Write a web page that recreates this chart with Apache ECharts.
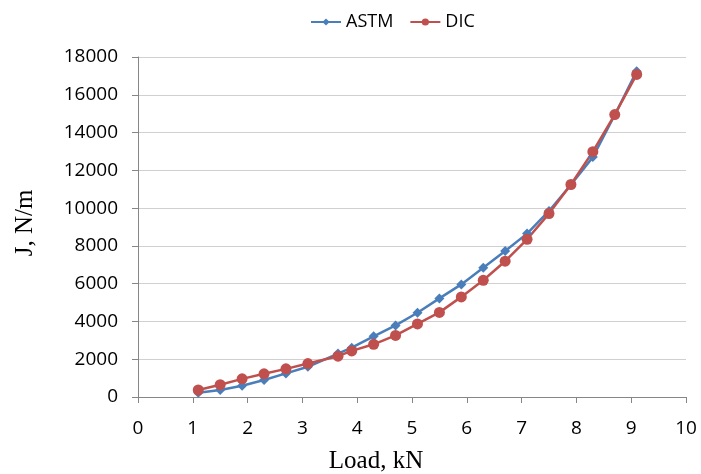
<!DOCTYPE html>
<html>
<head>
<meta charset="utf-8">
<script src="https://cdn.jsdelivr.net/npm/echarts@6/dist/echarts.min.js"></script>
<style>
  html, body { margin: 0; padding: 0; background: #fff; }
  #chart { width: 701px; height: 474px; }
</style>
</head>
<body>
<div id="chart"></div>
<script>
// load values (kN)
var loads = [1.1, 1.5, 1.9, 2.3, 2.7, 3.1, 3.65, 3.9, 4.3, 4.7, 5.1, 5.5, 5.9, 6.3, 6.7, 7.1, 7.5, 7.9, 8.3, 8.7, 9.1];
// J values, N/m
var astm = [230, 370, 600, 900, 1250, 1600, 2300, 2610, 3210, 3790, 4460, 5220, 5960, 6840, 7730, 8650, 9850, 11240, 12700, 14930, 17250];
var dic = [370, 650, 960, 1230, 1490, 1770, 2160, 2440, 2790, 3260, 3870, 4480, 5300, 6180, 7190, 8350, 9710, 11250, 12990, 14950, 17080];
var xTicks = [0, 10, 1];
var yTicks = [0, 18000, 2000];

function pairs(ys) {
    var out = [];
    for (let i = 0; i < loads.length; i++) {
        out.push([loads[i], ys[i]]);
    }
    return out;
}

var myChart = echarts.init(document.getElementById('chart'));

var tickFont = { fontFamily: 'Open Sans', fontSize: 19, color: '#000' };

var option = {
    animation: false,
    legend: {
        top: 8,
        left: 305,
        itemWidth: 30,
        itemHeight: 9,
        itemGap: 16,
        textStyle: { fontFamily: 'Open Sans', fontSize: 18, color: '#000' },
        data: ['ASTM', 'DIC']
    },
    grid: { left: 138, right: 15, top: 57, bottom: 77, outerBoundsMode: 'none' },
    xAxis: {
        type: 'value',
        min: xTicks[0],
        max: xTicks[1],
        interval: xTicks[2],
        name: 'Load, kN',
        nameLocation: 'middle',
        nameGap: 52,
        nameTextStyle: { fontFamily: 'Liberation Serif', fontSize: 25, color: '#000', padding: [0, 72, 0, 0] },
        axisLine: { lineStyle: { color: '#868686' } },
        axisTick: { show: true, length: 6, lineStyle: { color: '#868686' } },
        axisLabel: Object.assign({ margin: 22 }, tickFont),
        splitLine: { show: false }
    },
    yAxis: {
        type: 'value',
        min: yTicks[0],
        max: yTicks[1],
        interval: yTicks[2],
        name: 'J, N/m',
        nameLocation: 'middle',
        nameGap: 100,
        nameTextStyle: { fontFamily: 'Liberation Serif', fontSize: 25, color: '#000', padding: [0, 0, 0, 8] },
        axisLine: { show: true, lineStyle: { color: '#868686' } },
        axisTick: { show: true, length: 6, lineStyle: { color: '#868686' } },
        axisLabel: Object.assign({ margin: 20, formatter: function(v) { return String(v); } }, tickFont),
        splitLine: { show: true, lineStyle: { color: '#d0d0d0', width: 1 } }
    },
    series: [
        {
            name: 'ASTM',
            type: 'line',
            data: pairs(astm),
            symbol: 'diamond',
            symbolSize: 10,
            lineStyle: { color: '#4a7ebb', width: 2.5 },
            itemStyle: { color: '#4a7ebb' }
        },
        {
            name: 'DIC',
            type: 'line',
            data: pairs(dic),
            symbol: 'circle',
            symbolSize: 11,
            lineStyle: { color: '#c0504d', width: 2.5 },
            itemStyle: { color: '#c0504d' }
        }
    ]
};

myChart.setOption(option);
</script>
</body>
</html>
